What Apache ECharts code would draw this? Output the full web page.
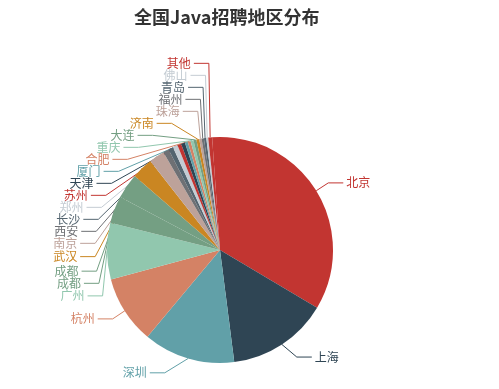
<!DOCTYPE html>
<html>
<head>
<meta charset="utf-8">
<script src="https://cdn.jsdelivr.net/npm/echarts@6/dist/echarts.min.js"></script>
<style>
html,body{margin:0;padding:0;background:#fff;}
#main{width:499px;height:389px;}
</style>
</head>
<body>
<div id="main"></div>
<script>
var titleText = '全国Java招聘地区分布';
var cities = ['北京','上海','深圳','杭州','广州','成都','成都','武汉','南京','西安','长沙','郑州','苏州','天津','厦门','合肥','重庆','大连','济南','珠海','福州','青岛','佛山','其他'];
var counts = [1248,520,472,350,290,140,130,110,80,30,25,25,20,20,15,15,15,15,15,12,12,12,10,20];
var palette = ['#c23531','#2f4554','#61a0a8','#d48265','#91c7ae','#749f83','#749f83','#ca8622','#bda29a','#6e7074','#546570','#c4ccd3','#c23531','#2f4554','#61a0a8','#d48265','#91c7ae','#749f83','#ca8622','#bda29a','#6e7074','#546570','#c4ccd3','#c23531'];

// pie geometry settings
var CX = 220, CY = 250, R = 113, START = 94;
var LEN = 15, LEN2 = 15, LABEL_H = 12, VIEW_H = 389;

// classic (ECharts 3 style) outside label layout, computed from the data angles
function buildLabelLayout() {
  var total = counts.reduce(function (a, b) { return a + b; }, 0);
  var acc = 0, items = [];
  for (var i = 0; i < counts.length; i++) {
    var a = (START - 360 * (acc + counts[i] / 2) / total) * Math.PI / 180;
    acc += counts[i];
    var dx = Math.cos(a), dy = -Math.sin(a);
    var dir = dx < 0 ? -1 : 1;
    var x2 = CX + (R + LEN) * dx, y2 = CY + (R + LEN) * dy;
    var x3 = x2 + dir * LEN2;
    items.push({idx: i, dir: dir, x: x3 + 3 * dir, y: y2, height: LABEL_H,
      p1: [CX + R * dx, CY + R * dy], dist: x2 - x3});
  }
  function adjust(list, dir) {
    if (!list.length) return;
    list.sort(function (p, q) { return p.y - q.y; });
    function shiftUp(end, delta) {
      for (var j = end; j >= 0; j--) {
        list[j].y -= delta;
        if (j > 0 && list[j].y > list[j - 1].y + list[j - 1].height) break;
      }
    }
    function shiftDown(start, end, delta) {
      for (var j = start; j < end; j++) {
        list[j].y += delta;
        if (j > start && j + 1 < end && list[j + 1].y > list[j].y + list[j].height) {
          shiftUp(j, delta / 2);
          return;
        }
      }
      shiftUp(end - 1, delta / 2);
    }
    var lastY = 0, len = list.length;
    for (var i = 0; i < len; i++) {
      var d = list[i].y - lastY;
      if (d < 0) shiftDown(i, len, -d);
      lastY = list[i].y + list[i].height;
    }
    if (VIEW_H - lastY < 0) shiftUp(len - 1, lastY - VIEW_H);
    for (var k = 0; k < len; k++) {
      var it = list[k];
      var deltaY = Math.abs(it.y - CY);
      var deltaX = deltaY < R + LEN
        ? Math.sqrt((R + LEN + LEN2) * (R + LEN + LEN2) - deltaY * deltaY)
        : Math.abs(it.x - CX);
      it.x = CX + deltaX * dir;
    }
  }
  adjust(items.filter(function (t) { return t.dir < 0; }), -1);
  adjust(items.filter(function (t) { return t.dir > 0; }), 1);
  var out = {};
  items.forEach(function (it) {
    var endX = it.x - 3 * it.dir;
    out[it.idx] = {
      x: it.x, y: it.y,
      align: it.dir < 0 ? 'right' : 'left',
      verticalAlign: 'middle',
      labelLinePoints: [it.p1, [endX + it.dist, it.y], [endX, it.y]]
    };
  });
  return out;
}
var labelPos = buildLabelLayout();

var chart = echarts.init(document.getElementById('main'), null, {renderer:'canvas'});
var font = '"Noto Sans CJK SC", "Noto Sans", sans-serif';
chart.setOption({
  animation: false,
  backgroundColor: '#fff',
  title: {
    text: titleText,
    left: 129,
    top: 3,
    textStyle: {fontSize: 18, fontWeight: 'bold', color: '#333', fontFamily: font}
  },
  series: [{
    type: 'pie',
    center: [CX, CY],
    radius: R,
    startAngle: START,
    clockwise: true,
    avoidLabelOverlap: true,
    itemStyle: {borderWidth: 0},
    label: {show: true, position: 'outside', fontSize: 12, lineHeight: 12, fontFamily: font},
    labelLine: {show: true, length: LEN, length2: LEN2, lineStyle: {width: 1}},
    labelLayout: function (params) {
      return labelPos[params.dataIndex];
    },
    data: cities.map(function (c, i) {
      return {
        name: c,
        value: counts[i],
        itemStyle: {color: palette[i]},
        label: {color: palette[i]},
        labelLine: {lineStyle: {color: palette[i]}}
      };
    })
  }]
});
</script>
</body>
</html>
